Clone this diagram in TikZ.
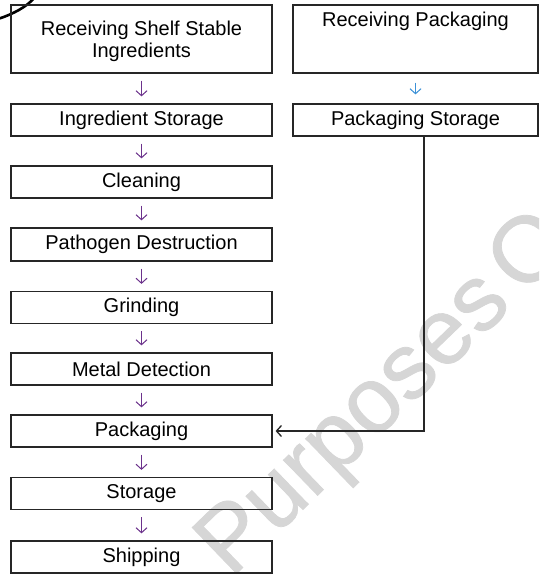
\documentclass[tikz,border=0pt]{standalone}
\usepackage{fontspec}
\setmainfont{Liberation Sans}
\newfontfamily\wmfont[FakeBold=0.8]{Liberation Sans}
\usetikzlibrary{arrows.meta}
\definecolor{flowpurple}{RGB}{108,50,140}
\definecolor{flowblue}{RGB}{60,145,215}
\definecolor{wmgray}{RGB}{214,214,214}
\tikzset{
  stepbox/.style={draw=black!85, line width=1.2pt, inner sep=0pt,
    font=\fontsize{20}{22}\selectfont, align=center},
  leftbox/.style={stepbox, minimum width=261pt, minimum height=32pt},
  rightbox/.style={stepbox, minimum width=245pt, minimum height=32pt},
  downarrow/.style={draw=flowpurple, line width=1pt,
    -{Straight Barb[length=5pt,width=11pt]}, shorten <=7pt, shorten >=7pt},
  bluearrow/.style={downarrow, draw=flowblue, shorten <=9pt, shorten >=9pt},
  feed/.style={draw=black!85, line width=1.3pt,
    -{Straight Barb[length=5pt,width=11pt]}, shorten >=3pt}
}
\begin{document}
\begin{tikzpicture}[x=1pt,y=-1pt]
  \useasboundingbox (0,0) rectangle (539,575);
  \fill[white] (0,0) rectangle (539,575);

  % watermark
  \begin{scope}
    \clip (0,0) rectangle (539,575);
    \node[wmgray, rotate=44, anchor=base west, inner sep=0pt,
      font=\wmfont\fontsize{93}{93}\selectfont] (wm) at (231,579)
      {Purposes\hspace{0.14em}O};
  \end{scope}

  % corner arc
  \draw[line width=2.6pt] (-2,19) .. controls (13,14) and (27,7) .. (35,-3);

  % ingredient line
  \node[leftbox, minimum height=68pt] (rss) at (141.5,39)
    {\rule{0pt}{20pt}Receiving Shelf Stable\\Ingredients};
  \node[leftbox] (is) at (141.5,120) {Ingredient Storage};
  \node[leftbox] (cl) at (141.5,182) {Cleaning};
  \node[leftbox, minimum height=33pt] (pd) at (141.5,244.5) {Pathogen Destruction};
  \node[leftbox] (gr) at (141.5,307.5) {Grinding};
  \node[leftbox] (md) at (141.5,369) {Metal Detection};
  \node[leftbox] (pk) at (141.5,431) {Packaging};
  \node[leftbox] (st) at (141.5,493.5) {Storage};
  \node[leftbox] (sh) at (141.5,557) {Shipping};

  % packaging line
  \node[rightbox, text height=22pt, text depth=46pt] (rp) at (415.5,39)
    {Receiving Packaging};
  \node[rightbox] (ps) at (415.5,120) {Packaging Storage};

  % flow arrows
  \draw[downarrow] (rss) -- (is);
  \draw[downarrow] (is) -- (cl);
  \draw[downarrow] (cl) -- (pd);
  \draw[downarrow] (pd) -- (gr);
  \draw[downarrow] (gr) -- (md);
  \draw[downarrow] (md) -- (pk);
  \draw[downarrow] (pk) -- (st);
  \draw[downarrow] (st) -- (sh);
  \draw[bluearrow] (rp) -- (ps);

  \draw[feed] ([xshift=8.5pt]ps.south) |- (pk.east);
\end{tikzpicture}
\end{document}
